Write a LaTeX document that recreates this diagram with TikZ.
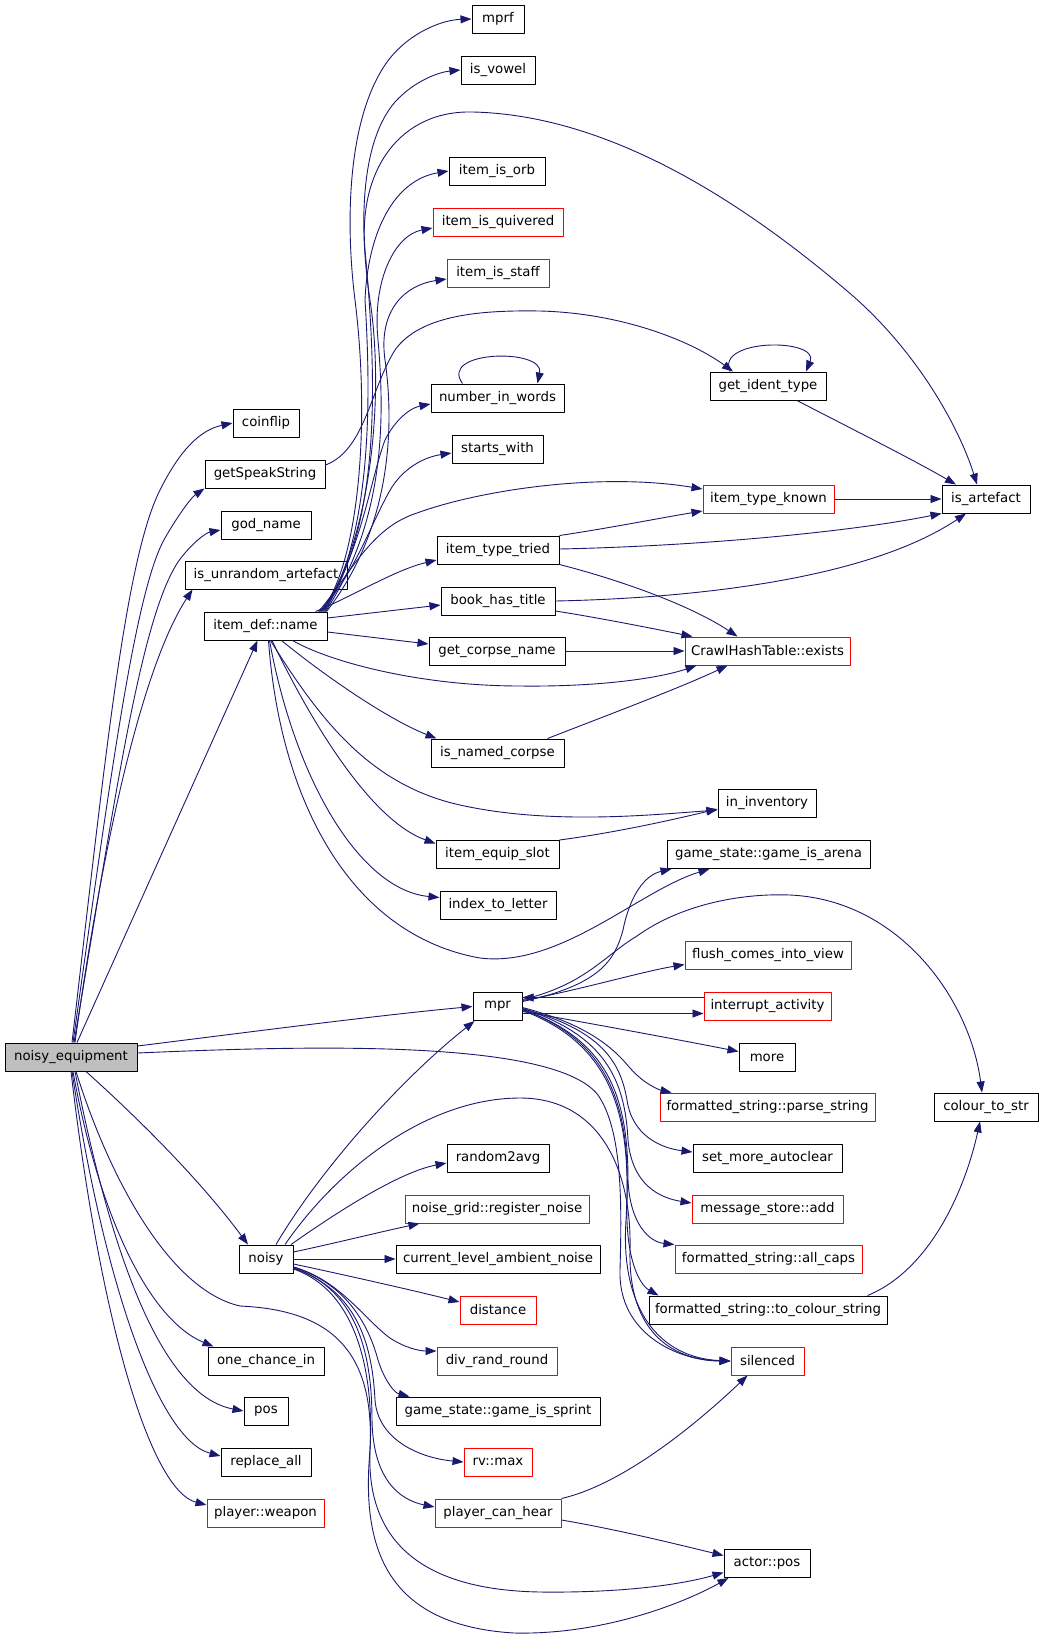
\documentclass[tikz,border=0pt]{standalone}
\usepackage{fontspec}
\setmainfont{DejaVu Sans}
\usetikzlibrary{arrows.meta}
\definecolor{edgeblue}{RGB}{25,25,112}
\definecolor{rootgray}{RGB}{191,191,191}
\begin{document}
\begin{tikzpicture}[x=1pt, y=-1pt, line join=round, font=\fontsize{13.3}{16}\selectfont, >={Triangle[length=11pt,width=8pt]},
	fn/.style={draw=black, line width=1pt, minimum height=28pt, inner xsep=3pt, inner ysep=0pt},
	fnred/.style={fn, draw=red},
	call/.style={->, draw=edgeblue, line width=0.9pt}]
	\useasboundingbox (0,0) rectangle (1045,1649);
	%hàm gốc
	\node[fn, fill=rootgray, minimum width=132pt] (ne) at (71,1057) {noisy\_equipment};
	\foreach \n/\px/\py/\w/\lbl in {
		coin/266/423/66/coinflip, gss/265/474/120/getSpeakString, god/266/525/90/god\_name,
		iua/266/575/162/is\_unrandom\_artefact, idn/265.5/626/123/item\_def::name,
		noisy/266/1259/54/noisy, oci/266/1361/116/one\_chance\_in, pos/266/1411/44/pos,
		ra/266/1462/90/replace\_all,
		mprf/498/19/52/mprf, vow/498/70/74/is\_vowel, orb/497/171/96/item\_is\_orb,
		niw/497.5/398/133/number\_in\_words, sw/497.5/449/91/starts\_with,
		itt/498/550/122/item\_type\_tried, bht/498/601/114/book\_has\_title,
		gcn/497/651/136/get\_corpse\_name, inc/497.5/753/133/is\_named\_corpse,
		ies/497.5/854.5/123/item\_equip\_slot, itl/498/905.5/116/index\_to\_letter,
		mpr/497.5/1006.5/49/mpr, r2a/498/1158/102/random2avg,
		clan/498/1259/204/current\_level\_ambient\_noise, gis/498/1411/204/game\_state::game\_is\_sprint,
		git/768/386/116/get\_ident\_type, inv/767/803/98/in\_inventory,
		gia/768.5/854.5/203/game\_state::game\_is\_arena, more/767/1057.5/56/more,
		smac/767.5/1158/149/set\_more\_autoclear, fstcs/768/1310/238/formatted\_string::to\_colour\_string,
		apos/767/1563.5/86/actor::pos, isa/986/499/88/is\_artefact, cts/986/1107/104/colour\_to\_str}
	\node[fn, minimum width=\w pt] (\n) at (\px,\py) {\lbl};
	%hàm không có tài liệu
	\foreach \n/\px/\py/\w/\lbl in {
		quiv/498/222/130/item\_is\_quivered, staff/498/273/102/item\_is\_staff,
		itk/768.5/499/131/item\_type\_known, cht/767.5/651/165/CrawlHashTable::exists,
		fciv/768/955.5/166/flush\_comes\_into\_view, ia/767.5/1006.5/127/interrupt\_activity,
		fsps/767.5/1107/215/formatted\_string::parse\_string, msa/767.5/1209/151/message\_store::add,
		fsac/768.5/1259/187/formatted\_string::all\_caps, sil/767.5/1361/73/silenced,
		ngrn/497/1209/184/noise\_grid::register\_noise, dist/498/1310/76/distance,
		drr/497/1361/120/div\_rand\_round, rvm/498/1462/68/rv::max,
		pch/498/1513/126/player\_can\_hear, pw/265.5/1513/117/player::weapon}
	\node[fnred, minimum width=\w pt] (\n) at (\px,\py) {\lbl};
	
	%noisy_equipment
	\draw[call] ([xshift=1pt]ne.north) .. controls (105,760) and (125,560) .. (160,490) .. controls (180,450) and (200,430) .. (coin.west);
	\draw[call] ([xshift=2pt]ne.north) .. controls (110,780) and (135,590) .. (165,538) .. controls (180,512) and (192,497) .. (gss.south west);
	\draw[call] ([xshift=3pt]ne.north) .. controls (115,800) and (140,620) .. (178,562) .. controls (190,545) and (205,533) .. ([yshift=-5pt]god.west);
	\draw[call] ([xshift=4pt]ne.north) .. controls (100,860) and (140,670) .. ([xshift=8pt]iua.south west);
	\draw[call] ([xshift=6pt]ne.north) -- ([xshift=-8pt]idn.south);
	\draw[call] ([yshift=11pt]ne.east) .. controls (250,1032) and (380,1015) .. (mpr.west);
	\draw[call] ([yshift=4pt]ne.east) .. controls (320,1045) and (555,1040) .. (598,1095) .. controls (622,1130) and (622,1200) .. (620,1270) .. controls (618,1335) and (680,1361) .. (sil.west);
	\draw[call] ([xshift=15pt]ne.south) .. controls (140,1120) and (200,1180) .. ([xshift=-18pt]noisy.north);
	\draw[call] ([xshift=2pt]ne.south) .. controls (100,1220) and (150,1320) .. ([xshift=6pt]oci.north west);
	\draw[call] ([xshift=4pt]ne.south) .. controls (110,1250) and (160,1395) .. (pos.west);
	\draw[call] ([xshift=1pt]ne.south) .. controls (105,1290) and (160,1440) .. ([yshift=6pt]ra.west);
	\draw[call] (ne.south) .. controls (100,1320) and (150,1490) .. ([yshift=8pt]pw.west);
	\draw[call] ([xshift=5pt]ne.south) .. controls (110,1180) and (170,1290) .. (240,1306) .. controls (330,1310) and (375,1350) .. (370,1450) .. controls (362,1540) and (380,1625) .. (514,1633) .. controls (600,1635) and (680,1605) .. ([xshift=5pt]apos.south west);
	
	%item_def::name
	\draw[call] ([xshift=-6pt]idn.north east) .. controls (360,560) and (370,420) .. (355,300) .. controls (345,220) and (348,120) .. (385,65) .. controls (405,35) and (440,20) .. (mprf.west);
	\draw[call] ([xshift=-5pt]idn.north east) .. controls (370,540) and (385,400) .. (370,300) .. controls (358,220) and (362,140) .. (395,102) .. controls (415,80) and (440,72) .. (vow.west);
	\draw[call] ([xshift=-4pt]idn.north east) .. controls (385,520) and (375,360) .. (365,250) .. controls (358,170) and (400,110) .. (473,112) .. controls (600,115) and (730,190) .. (853,296) .. controls (920,355) and (960,430) .. ([xshift=-9pt]isa.north);
	\draw[call] ([xshift=-3pt]idn.north east) .. controls (375,530) and (370,380) .. (365,300) .. controls (368,230) and (395,180) .. (orb.west);
	\draw[call] ([xshift=-2pt]idn.north east) .. controls (385,520) and (385,420) .. (378,340) .. controls (372,280) and (395,235) .. ([yshift=-6pt]quiv.west);
	\draw[call] ([xshift=-1pt]idn.north east) .. controls (390,530) and (395,430) .. (385,360) .. controls (378,310) and (405,285) .. ([yshift=-6pt]staff.west);
	\draw[call] ([xshift=-7pt]idn.north east) .. controls (360,560) and (370,480) .. (385,440) .. controls (395,420) and (410,408) .. ([yshift=-6pt]niw.west);
	\draw[call] ([xshift=-8pt]idn.north east) .. controls (355,575) and (372,520) .. (392,487) .. controls (405,467) and (425,457) .. ([yshift=-4pt]sw.west);
	\draw[call] ([xshift=-9pt]idn.north east) .. controls (350,575) and (370,528) .. (417,513) .. controls (480,490) and (600,472) .. ([yshift=10pt]itk.west);
	\draw[call] ([xshift=-12pt]idn.north east) .. controls (355,595) and (395,570) .. ([yshift=-10pt]itt.west);
	\draw[call] ([yshift=8pt]idn.east) -- ([yshift=-4pt]bht.west);
	\draw[call] ([yshift=-6pt]idn.east) -- ([yshift=7pt]gcn.west);
	\draw[call] ([xshift=27pt]idn.south) .. controls (330,662) and (420,686) .. (520,686) .. controls (600,687) and (660,678) .. ([xshift=12pt]cht.south west);
	\draw[call] ([xshift=16pt]idn.south) .. controls (330,680) and (390,720) .. ([xshift=6pt]inc.north west);
	\draw[call] ([xshift=5pt]idn.south) .. controls (320,720) and (370,785) .. (460,805) .. controls (550,825) and (650,815) .. ([yshift=-7pt]inv.west);
	\draw[call] ([xshift=6.5pt]idn.south) .. controls (310,720) and (370,820) .. ([yshift=11pt]ies.west);
	\draw[call] ([xshift=4pt]idn.south) .. controls (295,780) and (360,890) .. ([yshift=8pt]itl.west);
	\draw[call] ([xshift=3pt]idn.south) .. controls (280,800) and (350,935) .. (480,958) .. controls (560,968) and (640,890) .. ([xshift=43pt]gia.south west);
	
	%getSpeakString, get_ident_type, number_in_words
	\draw[call] ([yshift=9pt]gss.east) .. controls (365,450) and (370,390) .. (395,350) .. controls (420,315) and (480,310) .. (540,311) .. controls (620,313) and (690,340) .. ([xshift=-35pt]git.north);
	\draw[call] ([xshift=-38pt]git.north) .. controls (715,338) and (820,338) .. ([xshift=38pt]git.north);
	\draw[call] ([xshift=-35pt]niw.north) .. controls (438,350) and (545,348) .. ([xshift=40pt]niw.north);
	\draw[call] ([xshift=29pt]git.south) .. controls (850,428) and (910,458) .. ([xshift=-30pt]isa.north);
	\draw[call] (itk.east) -- (isa.west);
	
	%item_type_tried, book_has_title, ...
	\draw[call] (itt.north east) .. controls (610,528) and (660,518) .. ([yshift=-12pt]itk.west);
	\draw[call] ([yshift=1pt]itt.east) .. controls (700,546) and (850,532) .. (isa.south west);
	\draw[call] (itt.south east) .. controls (620,580) and (690,605) .. ([xshift=-30pt]cht.north);
	\draw[call] (bht.east) .. controls (700,598) and (870,578) .. ([xshift=-20pt]isa.south);
	\draw[call] ([yshift=-10pt]bht.east) .. controls (600,618) and (650,628) .. ([xshift=8pt]cht.north west);
	\draw[call] (gcn.east) -- (cht.west);
	\draw[call] ([xshift=-17pt]inc.north east) .. controls (600,718) and (680,688) .. ([xshift=-40pt]cht.south);
	\draw[call] (ies.north east) .. controls (620,832) and (680,818) .. ([yshift=-6pt]inv.west);
	
	%mpr
	\draw[call] ([yshift=5pt]mpr.east) .. controls (600,985) and (615,960) .. (623,930) .. controls (630,895) and (645,875) .. ([xshift=5pt]gia.south west);
	\draw[call] ([yshift=7pt]mpr.east) .. controls (585,985) and (605,955) .. (637,936) .. controls (680,905) and (740,893) .. (790,895) .. controls (900,900) and (970,1000) .. ([xshift=-4pt]cts.north);
	\draw[call] ([yshift=6pt]mpr.east) .. controls (580,990) and (640,972) .. ([yshift=-9pt]fciv.west);
	\draw[call] ([yshift=9pt]ia.west) -- ([yshift=9pt]mpr.east);
	\draw[call] ([yshift=-7pt]mpr.east) -- ([yshift=-7pt]ia.west);
	\draw[call] ([yshift=-5pt]mpr.east) .. controls (600,1025) and (680,1040) .. ([yshift=6pt]more.west);
	\draw[call] ([yshift=-1pt]mpr.east) .. controls (590,1025) and (615,1050) .. (630,1068) .. controls (645,1085) and (660,1090) .. ([xshift=12pt]fsps.north west);
	\draw[call] ([yshift=-2pt]mpr.east) .. controls (600,1030) and (620,1060) .. (627,1100) .. controls (632,1135) and (660,1148) .. ([yshift=6pt]smac.west);
	\draw[call] ([yshift=-2pt]mpr.east) .. controls (605,1035) and (625,1080) .. (628,1140) .. controls (632,1185) and (660,1198) .. ([yshift=6pt]msa.west);
	\draw[call] ([yshift=-3pt]mpr.east) .. controls (610,1040) and (628,1100) .. (628,1180) .. controls (630,1225) and (650,1242) .. (fsac.north west);
	\draw[call] ([yshift=-3pt]mpr.east) .. controls (612,1042) and (630,1110) .. (627,1200) .. controls (625,1260) and (640,1285) .. ([xshift=10pt]fstcs.north west);
	\draw[call] ([yshift=-4pt]mpr.east) .. controls (615,1045) and (632,1120) .. (626,1220) .. controls (620,1310) and (660,1358) .. (sil.west);
	\draw[call] ([xshift=-20pt]fstcs.north east) .. controls (930,1270) and (965,1190) .. ([xshift=-6pt]cts.south);
	
	%noisy
	\draw[call] ([xshift=10pt]noisy.north) .. controls (320,1170) and (400,1080) .. ([xshift=2pt]mpr.south west);
	\draw[call] ([xshift=19pt]noisy.north) .. controls (340,1165) and (430,1098) .. (520,1098) .. controls (600,1098) and (632,1170) .. (630,1250) .. controls (628,1330) and (670,1360) .. (sil.west);
	\draw[call] ([xshift=25pt]noisy.north) .. controls (340,1210) and (400,1172) .. ([yshift=-5pt]r2a.west);
	\draw[call] ([yshift=7pt]noisy.east) .. controls (340,1242) and (380,1232) .. ([xshift=15pt]ngrn.south west);
	\draw[call] (noisy.east) -- (clan.west);
	\draw[call] ([yshift=-5pt]noisy.east) .. controls (350,1276) and (420,1292) .. ([yshift=8pt]dist.west);
	\draw[call] ([yshift=-8pt]noisy.east) .. controls (340,1280) and (365,1320) .. (390,1338) .. controls (405,1348) and (420,1351) .. ([yshift=10pt]drr.west);
	\draw[call] ([yshift=-8pt]noisy.east) .. controls (350,1285) and (370,1330) .. (378,1360) .. controls (385,1382) and (395,1393) .. ([xshift=14pt]gis.north west);
	\draw[call] ([yshift=-9pt]noisy.east) .. controls (355,1290) and (372,1340) .. (375,1400) .. controls (378,1440) and (420,1458) .. (rvm.west);
	\draw[call] ([yshift=-9pt]noisy.east) .. controls (360,1290) and (372,1360) .. (372,1420) .. controls (373,1480) and (400,1500) .. ([yshift=6pt]pch.west);
	\draw[call] ([yshift=-10pt]noisy.east) .. controls (360,1292) and (374,1380) .. (370,1450) .. controls (366,1540) and (420,1590) .. (540,1592) .. controls (620,1593) and (680,1585) .. ([yshift=-9pt]apos.west);
	\draw[call] ([yshift=-7pt]pch.east) .. controls (620,1530) and (680,1545) .. ([yshift=8pt]apos.west);
	\draw[call] (pch.north east) .. controls (620,1485) and (690,1430) .. ([xshift=-20pt]sil.south);
\end{tikzpicture}
\end{document}
